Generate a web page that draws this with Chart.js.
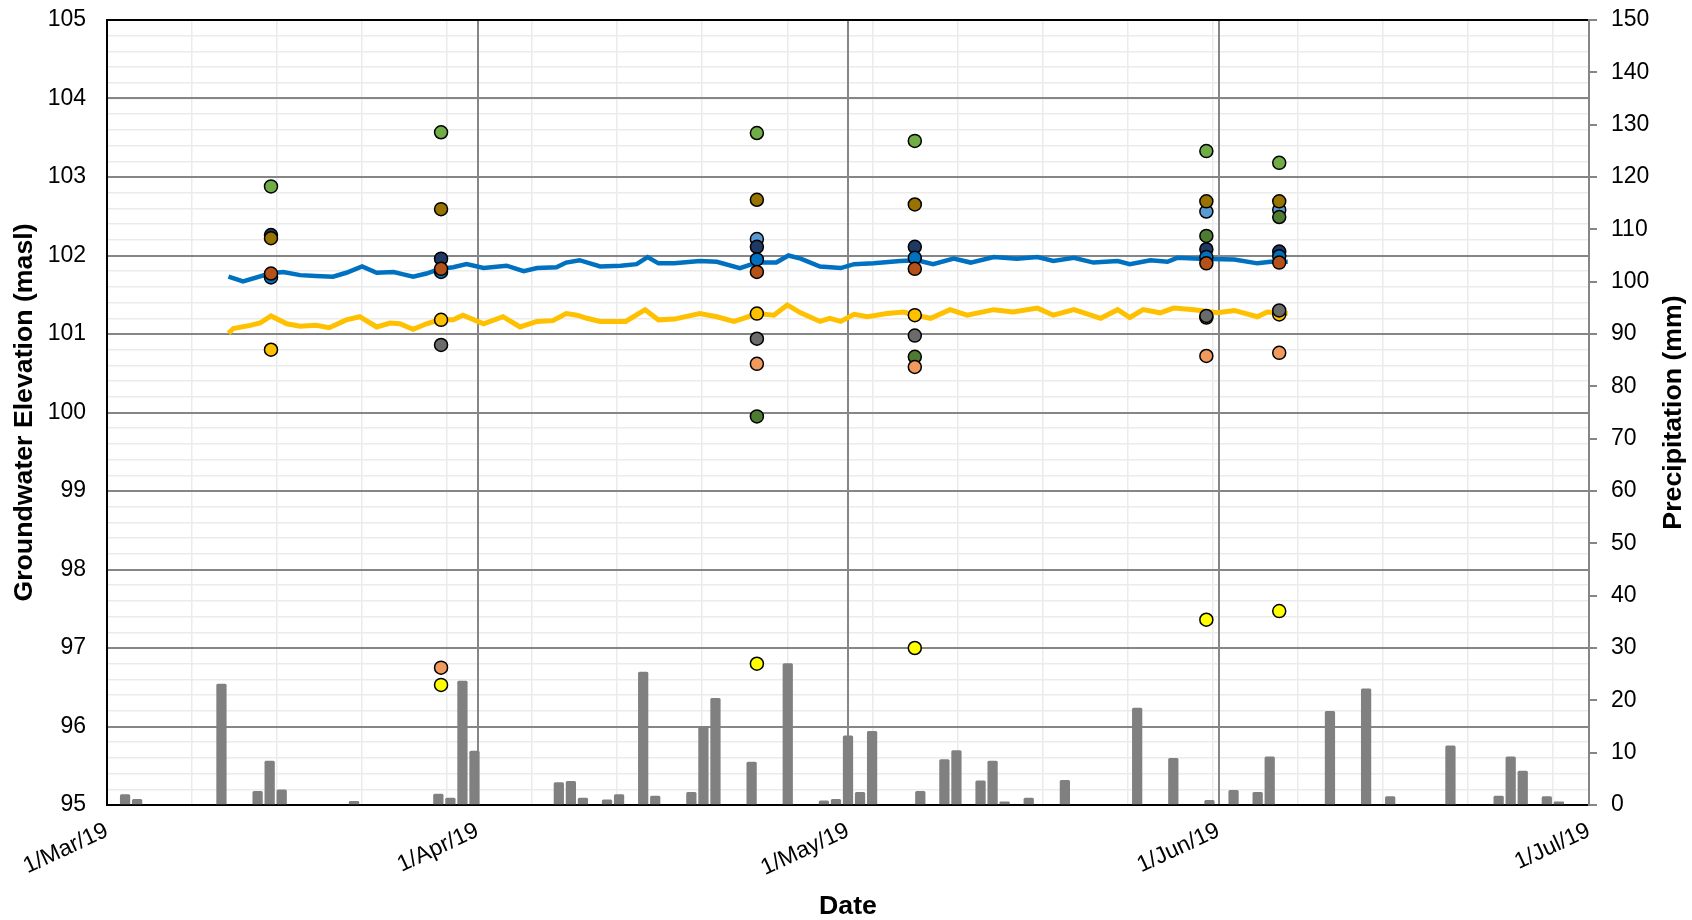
<!DOCTYPE html>
<html>
<head>
<meta charset="utf-8">
<title>Groundwater elevation and precipitation</title>
<script src="https://cdn.jsdelivr.net/npm/chart.js@4.4.1/dist/chart.umd.min.js"></script>
<style>
  html, body { margin: 0; padding: 0; background: #fff; }
</style>
</head>
<body>
<canvas id="myChart" width="1692" height="920"></canvas>
<script>
// x axis = days counted from 1/Mar/19 00:00
var xTickDays = [0, 30.5, 61, 91.5, 122];
var xTickLabels = ['1/Mar/19', '1/Apr/19', '1/May/19', '1/Jun/19', '1/Jul/19'];

// daily rainfall (mm), dry days left out
var rainDates = ['2019-03-02', '2019-03-03', '2019-03-10', '2019-03-13', '2019-03-14', '2019-03-15', '2019-03-21',
  '2019-03-28', '2019-03-29', '2019-03-30', '2019-03-31', '2019-04-07', '2019-04-08', '2019-04-09', '2019-04-11',
  '2019-04-12', '2019-04-14', '2019-04-15', '2019-04-18', '2019-04-19', '2019-04-20', '2019-04-23', '2019-04-26',
  '2019-04-29', '2019-04-30', '2019-05-01', '2019-05-02', '2019-05-03', '2019-05-07', '2019-05-09', '2019-05-10',
  '2019-05-12', '2019-05-13', '2019-05-14', '2019-05-16', '2019-05-19', '2019-05-25', '2019-05-28', '2019-05-31',
  '2019-06-02', '2019-06-04', '2019-06-05', '2019-06-10', '2019-06-13', '2019-06-15', '2019-06-20', '2019-06-24',
  '2019-06-25', '2019-06-26', '2019-06-28', '2019-06-29'];
var rainMm = [2.0, 1.1, 23.1, 2.6, 8.4, 2.9, 0.7,
  2.1, 1.3, 23.7, 10.3, 4.3, 4.5, 1.3, 1.0,
  2.0, 25.4, 1.7, 2.4, 15.0, 20.4, 8.2, 27.0,
  0.8, 1.1, 13.2, 2.4, 14.1, 2.6, 8.7, 10.4,
  4.6, 8.4, 0.6, 1.3, 4.7, 18.5, 8.9, 0.9,
  2.8, 2.4, 9.2, 17.9, 22.2, 1.6, 11.3, 1.7,
  9.2, 6.5, 1.6, 0.6];

// logger records (day from 1/Mar/19, masl)
var blueDay = [10.0, 11.2, 13.4, 14.5, 15.9, 17.2, 18.6, 19.7, 21.0, 22.2, 23.6, 24.4, 25.2, 26.3, 27.4, 28.5,
  29.6, 31.0, 32.9, 34.3, 35.4, 37.0, 37.8, 38.9, 40.6, 42.3, 43.6, 44.5, 45.4, 46.7, 48.8, 50.2, 52.1, 53.5,
  55.1, 56.1, 57.1, 58.7, 60.4, 61.5, 63.1, 65.3, 66.7, 68.0, 69.7, 71.1, 73.0, 74.9, 76.6, 77.9, 79.6, 81.2,
  83.2, 84.2, 85.9, 87.3, 88.1, 90.0, 92.8, 94.7, 95.8, 97.2];
var blueLevel = [101.73, 101.67, 101.77, 101.79, 101.75, 101.74, 101.73, 101.78, 101.86, 101.78, 101.79, 101.76,
  101.73, 101.77, 101.83, 101.85, 101.89, 101.84, 101.87, 101.80, 101.84, 101.85, 101.91, 101.94, 101.86, 101.87,
  101.89, 101.98, 101.90, 101.90, 101.93, 101.92, 101.84, 101.91, 101.91, 102.00, 101.96, 101.86, 101.84, 101.89,
  101.90, 101.93, 101.94, 101.89, 101.96, 101.91, 101.98, 101.96, 101.98, 101.93, 101.97, 101.91, 101.93, 101.89,
  101.94, 101.92, 101.97, 101.96, 101.95, 101.90, 101.92, 101.92];
var yellowDay = [10.0, 10.4, 11.8, 12.6, 13.5, 14.8, 15.9, 17.2, 18.3, 19.7, 20.8, 22.2, 23.3, 24.1, 25.2, 26.3,
  27.4, 28.5, 29.3, 31.0, 32.6, 34.0, 35.4, 36.7, 37.8, 38.7, 39.5, 40.6, 42.7, 44.3, 45.4, 46.7, 48.8, 50.2,
  51.6, 52.4, 53.5, 54.9, 56.0, 57.1, 58.7, 59.5, 60.4, 61.5, 62.6, 64.2, 65.6, 66.5, 67.8, 69.4, 70.8, 73.0,
  74.6, 76.6, 77.9, 79.6, 81.8, 83.2, 84.2, 85.3, 86.7, 87.8, 89.5, 91.4, 92.8, 94.7, 95.5, 97.2];
var yellowLevel = [101.01, 101.07, 101.11, 101.14, 101.23, 101.13, 101.10, 101.11, 101.08, 101.18, 101.22, 101.09,
  101.14, 101.13, 101.06, 101.13, 101.18, 101.18, 101.24, 101.13, 101.22, 101.09, 101.16, 101.17, 101.26, 101.24,
  101.20, 101.16, 101.16, 101.31, 101.18, 101.19, 101.26, 101.22, 101.16, 101.20, 101.26, 101.24, 101.37, 101.27,
  101.16, 101.20, 101.16, 101.25, 101.22, 101.26, 101.28, 101.24, 101.20, 101.31, 101.24, 101.31, 101.28, 101.33,
  101.24, 101.31, 101.20, 101.31, 101.21, 101.31, 101.27, 101.33, 101.31, 101.27, 101.30, 101.22, 101.28, 101.26];

// manual readings per sampling round (masl), null = no reading
var sampleDates = ['2019-03-14T12:00', '2019-03-28T12:00', '2019-04-23T12:00', '2019-05-06T12:00', '2019-05-30T12:00', '2019-06-05T12:00'];
var wellGreen = [102.88, 103.57, 103.56, 103.46, 103.33, 103.18];
var wellOlive = [102.22, 102.59, 102.71, 102.65, 102.69, 102.69];
var wellNavy = [102.26, 101.96, 102.11, 102.11, 102.08, 102.05];
var wellBlue = [101.72, 101.79, 101.95, 101.97, 101.98, 101.99];
var wellLightBlue = [null, null, 102.21, null, 102.56, 102.58];
var wellRust = [101.77, 101.83, 101.79, 101.83, 101.90, 101.91];
var wellGold = [100.80, 101.18, 101.26, 101.24, 101.21, 101.25];
var wellGrey = [null, 100.86, 100.94, 100.98, 101.23, 101.30];
var wellSalmon = [null, 96.75, 100.62, 100.58, 100.72, 100.76];
var wellYellow = [null, 96.53, 96.80, 97.00, 97.36, 97.47];
var wellDarkGreen = [null, null, 99.95, 100.71, 102.25, 102.49];

var dayMs = 86400000;
var start = Date.UTC(2019, 2, 1);

function toDay(iso) {
  return (new Date(iso + 'Z').getTime() - start) / dayMs;
}
function pad(n) {
  return (n < 10 ? '0' : '') + n;
}

// one column slot per calendar day, 1/Mar to 1/Jul
var rainLabels = [];
var rainValues = [];
for (var i = 0; i <= 122; i++) {
  var d = new Date(start + i * dayMs);
  var key = d.getUTCFullYear() + '-' + pad(d.getUTCMonth() + 1) + '-' + pad(d.getUTCDate());
  rainLabels.push(key);
  var k = rainDates.indexOf(key);
  rainValues.push(k >= 0 ? rainMm[k] : null);
}

function pairs(xs, ys) {
  var out = [];
  for (var i = 0; i < xs.length; i++) out.push({ x: xs[i], y: ys[i] });
  return out;
}

var sampleDay = sampleDates.map(toDay);

function wellSet(label, values, color, order) {
  var pts = [];
  for (var i = 0; i < values.length; i++) {
    if (values[i] !== null) pts.push({ x: sampleDay[i], y: values[i] });
  }
  return {
    type: 'scatter',
    label: label,
    data: pts,
    xAxisID: 'x',
    yAxisID: 'y',
    backgroundColor: color,
    borderColor: '#000',
    pointRadius: 6.5,
    pointBorderWidth: 1.5,
    pointHoverRadius: 6.5,
    order: order
  };
}

// keep tick label overflow from pushing the plot area down
function noPad(scale) {
  scale.paddingTop = 0;
  scale.paddingBottom = 0;
}

var fontFamily = '"Liberation Sans", Arial, sans-serif';
Chart.defaults.font.family = fontFamily;
Chart.defaults.color = '#000';

// right title reads bottom-to-top like the left one
var rightTitle = {
  id: 'rightTitle',
  afterDraw: function (chart) {
    var s = chart.scales.y2;
    var ctx = chart.ctx;
    ctx.save();
    ctx.translate(s.right - 18, (s.top + s.bottom) / 2);
    ctx.rotate(-Math.PI / 2);
    ctx.font = 'bold 26.7px ' + fontFamily;
    ctx.fillStyle = '#000';
    ctx.textAlign = 'center';
    ctx.textBaseline = 'middle';
    ctx.fillText('Precipitation (mm)', 0, 0);
    ctx.restore();
  }
};

var ctx = document.getElementById('myChart').getContext('2d');
var chart = new Chart(ctx, {
  type: 'line',
  data: {
    datasets: [
      wellSet('Salmon', wellSalmon, '#F09A5E', 0),
      wellSet('Rust', wellRust, '#B4521A', 1),
      wellSet('Blue', wellBlue, '#0070C0', 2),
      wellSet('Olive', wellOlive, '#997300', 3),
      wellSet('Dark green', wellDarkGreen, '#4E7A31', 4),
      wellSet('Navy', wellNavy, '#1F3864', 5),
      wellSet('Light blue', wellLightBlue, '#5B9BD5', 6),
      wellSet('Grey', wellGrey, '#6B6B6B', 7),
      wellSet('Gold', wellGold, '#FFC000', 8),
      wellSet('Green', wellGreen, '#70AD47', 9),
      wellSet('Yellow', wellYellow, '#FFFF00', 10),
      {
        type: 'line',
        label: 'Logger (blue)',
        data: pairs(blueDay, blueLevel),
        xAxisID: 'x',
        yAxisID: 'y',
        borderColor: '#0070C0',
        borderWidth: 4.5,
        pointRadius: 0,
        tension: 0,
        order: 50
      },
      {
        type: 'line',
        label: 'Logger (yellow)',
        data: pairs(yellowDay, yellowLevel),
        xAxisID: 'x',
        yAxisID: 'y',
        borderColor: '#FFC000',
        borderWidth: 5,
        pointRadius: 0,
        tension: 0,
        order: 51
      },
      {
        type: 'bar',
        label: 'Precipitation',
        data: rainValues,
        xAxisID: 'xBar',
        yAxisID: 'y2',
        backgroundColor: '#808080',
        grouped: false,
        barThickness: 9.6,
        borderRadius: 1.5,
        order: 100
      }
    ]
  },
  options: {
    responsive: false,
    devicePixelRatio: 1,
    animation: false,
    layout: { padding: 0 },
    plugins: {
      legend: { display: false },
      tooltip: { enabled: false }
    },
    scales: {
      x: {
        type: 'linear',
        position: 'bottom',
        min: 0,
        max: 122,
        afterBuildTicks: function (scale) {
          scale.ticks = xTickDays.map(function (v) { return { value: v }; });
        },
        afterFit: function (scale) { scale.height = 115; },
        ticks: {
          autoSkip: false,
          minRotation: 25,
          maxRotation: 25,
          padding: 12,
          font: { size: 23 },
          callback: function (value, index) { return xTickLabels[index]; }
        },
        grid: { color: '#868686', lineWidth: 2, drawTicks: false, z: -1 },
        border: { color: '#000', width: 2 },
        title: {
          display: true,
          text: 'Date',
          font: { size: 26.7, weight: 'bold', lineHeight: 1 },
          padding: { top: 0, bottom: 0 }
        }
      },
      xMinor: {
        type: 'linear',
        position: 'bottom',
        min: 0,
        max: 122,
        afterFit: function (scale) { scale.height = 0; },
        ticks: { display: false, stepSize: 7 },
        grid: { color: '#ebebeb', lineWidth: 1.5, drawTicks: false, z: -2 },
        border: { display: false }
      },
      xTop: {
        type: 'linear',
        position: 'top',
        min: 0,
        max: 122,
        afterFit: function (scale) { scale.height = 20; },
        ticks: { display: false },
        grid: { display: false },
        border: { color: '#000', width: 2 }
      },
      xBar: {
        type: 'category',
        labels: rainLabels,
        offset: true,
        display: false
      },
      y: {
        type: 'linear',
        position: 'left',
        min: 95,
        max: 105,
        afterFit: function (scale) { scale.width = 107; noPad(scale); },
        ticks: { stepSize: 1, padding: 21, font: { size: 23 } },
        grid: { color: '#868686', lineWidth: 2, drawTicks: false, z: -1 },
        border: { color: '#000', width: 2 },
        title: {
          display: true,
          text: 'Groundwater Elevation (masl)',
          font: { size: 26.7, weight: 'bold', lineHeight: 1 },
          padding: { top: 11, bottom: 0 }
        }
      },
      yMinor: {
        type: 'linear',
        position: 'left',
        min: 95,
        max: 105,
        afterFit: function (scale) { scale.width = 0; noPad(scale); },
        ticks: { display: false, stepSize: 0.2 },
        grid: { color: '#ebebeb', lineWidth: 1.5, drawTicks: false, z: -2 },
        border: { display: false }
      },
      y2: {
        type: 'linear',
        position: 'right',
        min: 0,
        max: 150,
        afterFit: function (scale) { scale.width = 103; noPad(scale); },
        ticks: { stepSize: 10, padding: 14, font: { size: 23 } },
        grid: { drawOnChartArea: false, color: '#868686', lineWidth: 2, tickLength: 8 },
        border: { color: '#868686', width: 2 }
      }
    }
  },
  plugins: [rightTitle]
});
</script>
</body>
</html>
